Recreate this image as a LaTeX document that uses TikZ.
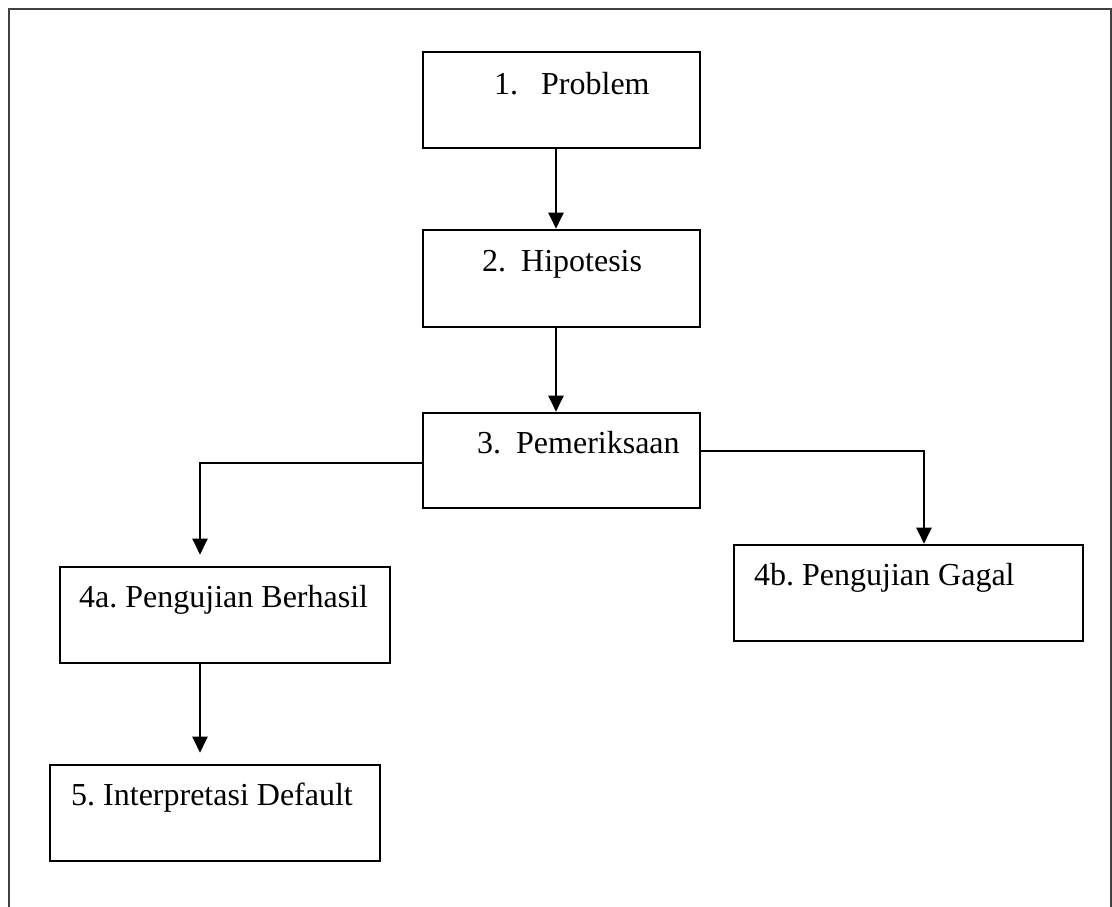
\documentclass[tikz,border=0pt]{standalone}
\usepackage{fontspec}
\setmainfont{Liberation Serif}
\usetikzlibrary{arrows.meta}
\frenchspacing
\begin{document}
\begin{tikzpicture}[x=1pt,y=-1pt,
  box/.style={draw=black,line width=2.6pt,rectangle,inner sep=0pt},
  lbl/.style={anchor=base west,inner sep=0pt,font=\fontsize{32}{38}\selectfont},
  arr/.style={draw=black,line width=2.2pt,-{Triangle[width=15pt,length=16pt]}},
  frame/.style={draw=black!75,line width=2.4pt}]
\useasboundingbox (0,0) rectangle (1112,906);
\draw[frame] (9,910) -- (9,9) -- (1111,9) -- (1111,910);
% boxes
\node[box,minimum width=277pt,minimum height=96pt] (b1) at (561.5,100) {};
\node[box,minimum width=277pt,minimum height=97pt] (b2) at (561.5,278.5) {};
\node[box,minimum width=277pt,minimum height=95pt] (b3) at (561.5,460.5) {};
\node[box,minimum width=330pt,minimum height=96pt] (b4a) at (225,615) {};
\node[box,minimum width=349pt,minimum height=96pt] (b4b) at (908.5,593) {};
\node[box,minimum width=330pt,minimum height=96pt] (b5) at (215,813) {};
% labels
\node[lbl] (t1) at (494,94) {1.\hspace{23pt}Problem};
\node[lbl] (t2) at (482,271) {2.\hspace{15pt}Hipotesis};
\node[lbl] (t3) at (477,453) {3.\hspace{15pt}Pemeriksaan};
\node[lbl] (t4a) at (79,607) {4a. Pengujian Berhasil};
\node[lbl] (t4b) at (754,585) {4b. Pengujian Gagal};
\node[lbl] (t5) at (71,805) {5. Interpretasi Default};
% helper coordinates
\coordinate (cx) at (556,0);
\coordinate (ly) at (0,463);
\coordinate (lx) at (200,0);
\coordinate (ry) at (0,451);
\coordinate (rx) at (924,0);
% connectors
\draw[arr] (b1.south -| cx) -- (b2.north -| cx);
\draw[arr] (b2.south -| cx) -- (b3.north -| cx);
\draw[arr,shorten >=11pt] (b3.west |- ly) -| (lx |- b4a.north);
\draw[arr] (b3.east |- ry) -| (rx |- b4b.north);
\draw[arr,shorten >=11pt] (lx |- b4a.south) -- (lx |- b5.north);
\end{tikzpicture}
\end{document}
